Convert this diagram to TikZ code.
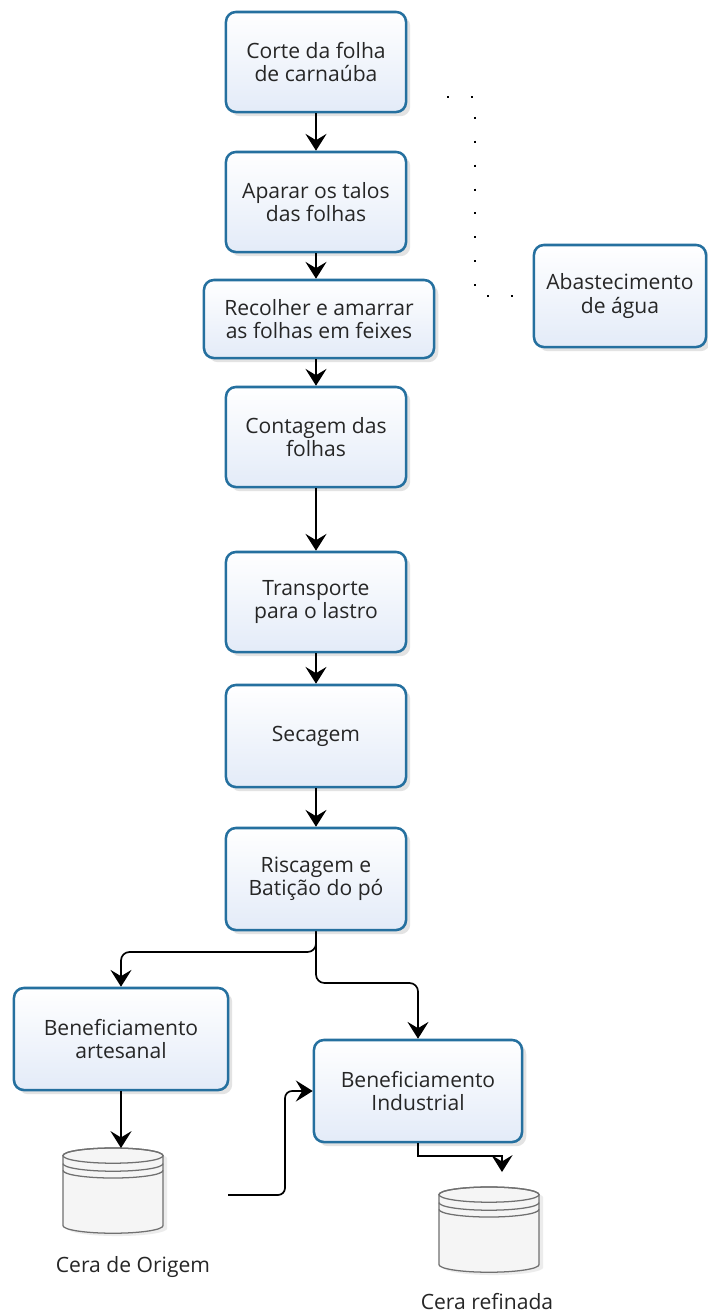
\documentclass[tikz,border=0pt]{standalone}
\usepackage{fontspec}
\setsansfont{Open Sans}
\usetikzlibrary{arrows.meta,shadows}
\definecolor{edge}{HTML}{25709F}
\definecolor{fillbot}{HTML}{E3EBF8}
\definecolor{ink}{HTML}{262626}
\definecolor{cylline}{HTML}{707070}
\definecolor{cylfill}{HTML}{F5F5F5}
\tikzset{
  proc/.style={draw=edge, line width=1.8pt, rounded corners=7pt, top color=white, bottom color=fillbot,
    drop shadow={shadow xshift=3pt, shadow yshift=-3pt, opacity=0.22},
    align=center, text=ink, font=\sffamily\fontsize{15}{16.5}\selectfont,
    minimum width=4.5cm, minimum height=2.5cm, inner sep=0pt},
  flow/.style={draw=black, line width=1.2pt, -{Stealth[length=12pt,width=15pt,inset=4.5pt]}},
  dotl/.style={draw=black, line width=1.4pt, dash pattern=on 1.4pt off 15.6pt},
  cyl/.style={draw=cylline, line width=0.9pt},
  lab/.style={text=ink, font=\sffamily\fontsize{15}{16.5}\selectfont},
}
\begin{document}
\begin{tikzpicture}[x=0.025cm, y=-0.025cm]
  \fill[white] (0,0) rectangle (708,1316);
  \useasboundingbox (0,0) rectangle (708,1316);

  % main column
  \node[proc] (corte) at (316,62) {Corte da folha\\de carnaúba};
  \node[proc] (aparar) at (316,202) {Aparar os talos\\das folhas};
  \node[proc, minimum width=5.75cm, minimum height=1.95cm] (recolher) at (319,319) {Recolher e amarrar\\as folhas em feixes};
  \node[proc] (contagem) at (316,437) {Contagem das\\folhas};
  \node[proc] (transp) at (316,602) {Transporte\\para o lastro};
  \node[proc, minimum height=2.55cm] (secagem) at (316,736) {Secagem};
  \node[proc, minimum height=2.55cm] (riscagem) at (316,879) {Riscagem e\\Batição do pó};

  % side and lower boxes
  \node[proc, minimum width=4.3cm, minimum height=2.55cm] (agua) at (620,296) {Abastecimento\\de água};
  \node[proc, minimum width=5.35cm, minimum height=2.55cm] (artesanal) at (121,1039) {Beneficiamento\\artesanal};
  \node[proc, minimum width=5.2cm, minimum height=2.55cm] (industrial) at (418,1091) {Beneficiamento\\Industrial};

  % storage drums
  \foreach \cx/\cy in {113/1148, 489/1187} {
    \begin{scope}[shift={(\cx,\cy)}, x=1cm, y=1cm]
      \draw[cyl, fill=cylfill, drop shadow={shadow xshift=3pt, shadow yshift=-2pt, opacity=0.15}]
        (-1.25,-0.19) -- (-1.25,-1.94) arc (180:360:1.25 and 0.19) -- (1.25,-0.19) arc (0:180:1.25 and 0.19) -- cycle;
      \draw[cyl] (0,-0.19) ellipse (1.25 and 0.19);
      \draw[cyl] (-1.25,-0.39) arc (180:360:1.25 and 0.19);
      \draw[cyl] (-1.25,-0.56) arc (180:360:1.25 and 0.19);
    \end{scope}
  }
  \node[lab] (origlab) at (133,1267) {Cera de Origem};
  \node[lab] (refinlab) at (487,1302) {Cera refinada};

  \coordinate (dotstart) at (447,97);
  \coordinate (origtop) at (121,1148);
  \coordinate (loose) at (228,1195);
  \coordinate (refin) at (502,1172);

  % connectors
  \draw[flow] (corte) -- (aparar);
  \draw[flow] (aparar.south) -- (aparar.south |- recolher.north);
  \draw[flow] (contagem.north |- recolher.south) -- (contagem.north);
  \draw[flow] (contagem) -- (transp);
  \draw[flow] (transp) -- (secagem);
  \draw[flow] (secagem) -- (riscagem);
  \draw[flow, rounded corners=6pt] (riscagem.south) -- (316,952) -| (artesanal.north);
  \draw[flow, rounded corners=6pt] (riscagem.south) -- (316,983) -| (industrial.north);
  \draw[flow] (artesanal.south) -- (origtop);
  \draw[flow, rounded corners=5pt] (loose) -- (285,1195) |- (industrial.west);
  \draw[flow] (industrial.south) -- ++(0,13) -| (refin);
  \draw[dotl] (dotstart) -- (475,97) -- (475,296) -- (agua.west);
\end{tikzpicture}
\end{document}
